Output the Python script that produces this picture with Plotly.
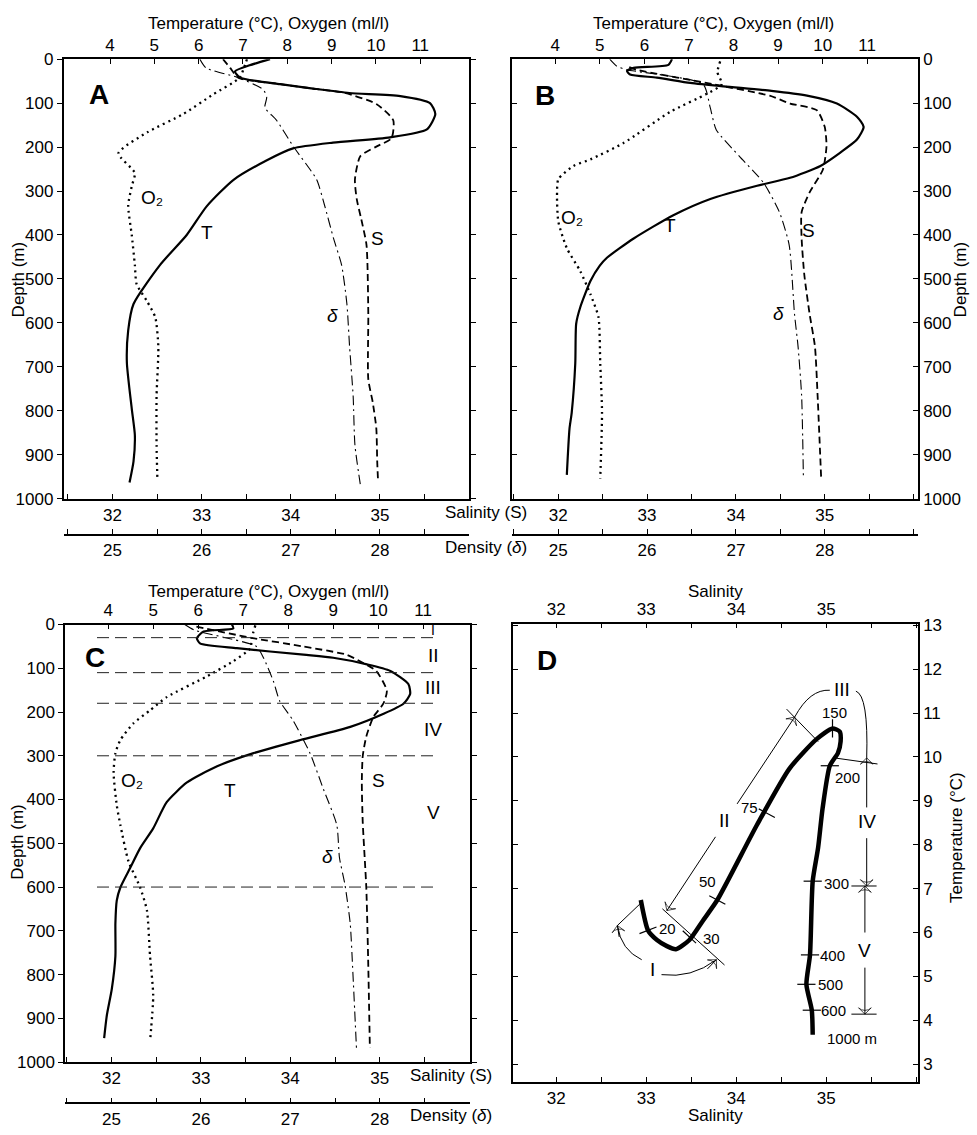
import plotly.graph_objects as go

W, H = 977, 1135
FONT = "Liberation Sans, Arial, Helvetica, sans-serif"

# ---------------- tick values ----------------
TEMP_TICKS = [4, 5, 6, 7, 8, 9, 10, 11]
SAL_TICKS = [32, 33, 34, 35]
DENS_TICKS = [25, 26, 27, 28]
DEPTH_TICKS = [0, 100, 200, 300, 400, 500, 600, 700, 800, 900, 1000]
D_TEMP_TICKS = [3, 4, 5, 6, 7, 8, 9, 10, 11, 12, 13]

# ---------------- panel A ----------------
A_T_DEPTH = [0, 14, 28, 42, 57, 67, 77, 84, 100, 125, 160, 178, 190, 203, 230, 275, 335, 400,
             468, 557, 617, 690, 795, 855, 915, 963]
A_T = [7.61, 7.15, 6.82, 6.93, 7.84, 8.58, 9.4, 10.55, 11.22, 11.34, 11.15, 10.32, 9.03, 8.13,
       7.54, 6.78, 6.18, 5.73, 5.13, 4.53, 4.41, 4.38, 4.49, 4.56, 4.53, 4.44]
A_O2_DEPTH = [0, 20, 42, 80, 125, 166, 214, 259, 289, 333, 400, 468, 512, 550, 587, 654, 766, 878, 960]
A_O2 = [7.09, 7.02, 6.93, 6.33, 5.65, 4.85, 4.19, 4.56, 4.49, 4.41, 4.49, 4.56, 4.6, 4.83, 5.02,
        5.09, 5.05, 5.05, 5.07]
A_S_DEPTH = [0, 20, 42, 57, 67, 76, 102, 139, 180, 199, 221, 274, 318, 363, 423, 579, 728, 781, 840, 915, 963]
A_S = [33.24, 33.32, 33.41, 33.88, 34.25, 34.59, 34.96, 35.15, 35.13, 34.96, 34.78, 34.72, 34.74,
       34.79, 34.85, 34.87, 34.87, 34.92, 34.96, 34.97, 34.98]
A_D_DEPTH = [0, 20, 42, 69, 87, 110, 139, 199, 274, 333, 408, 468, 557, 654, 766, 878, 967]
A_D = [25.98, 26.05, 26.41, 26.69, 26.73, 26.71, 26.84, 27.03, 27.29, 27.38, 27.48, 27.57, 27.63,
       27.66, 27.7, 27.72, 27.78]

# ---------------- panel B ----------------
B_T_DEPTH = [0, 13, 20, 27, 35, 42, 54, 62, 72, 83, 101, 131, 154, 183, 213, 243, 270, 288, 318,
             355, 408, 452, 470, 505, 565, 602, 692, 804, 841, 946]
B_T = [6.62, 6.54, 5.76, 5.61, 5.68, 6.28, 7.03, 7.78, 8.85, 9.65, 10.32, 10.77, 10.92, 10.77,
       10.39, 9.95, 9.27, 8.53, 7.48, 6.65, 5.76, 5.16, 5.0, 4.79, 4.56, 4.47, 4.45, 4.37, 4.32, 4.26]
B_O2_DEPTH = [5, 30, 57, 79, 120, 191, 228, 243, 273, 311, 370, 430, 482, 535, 587, 692, 804, 954]
B_O2 = [7.7, 7.64, 7.74, 7.4, 6.58, 5.53, 4.79, 4.41, 4.07, 4.04, 4.07, 4.26, 4.56, 4.79, 4.97,
        5.01, 5.05, 5.01]
B_S_DEPTH = [18, 24, 57, 83, 101, 116, 154, 198, 251, 303, 348, 408, 490, 580, 654, 766, 953]
B_S = [32.8, 32.88, 33.74, 34.38, 34.61, 34.91, 35.0, 35.02, 34.98, 34.83, 34.74, 34.74, 34.77,
       34.83, 34.89, 34.92, 34.96]
B_D_DEPTH = [0, 16, 24, 57, 109, 161, 221, 281, 348, 423, 580, 654, 766, 953]
B_D = [25.58, 25.66, 25.77, 26.63, 26.71, 26.78, 27.04, 27.31, 27.49, 27.6, 27.66, 27.7, 27.74, 27.76]

# ---------------- panel C ----------------
C_T_DEPTH = [0, 9, 16, 31, 43, 54, 69, 76, 91, 106, 136, 159, 181, 204, 234, 264, 294, 324, 361,
             406, 466, 511, 556, 601, 631, 683, 758, 833, 893, 945]
C_T = [6.75, 6.78, 6.12, 5.97, 6.04, 6.86, 8.34, 9.0, 9.75, 10.27, 10.67, 10.71, 10.56, 10.12,
       9.38, 8.27, 7.23, 6.42, 5.75, 5.3, 5.0, 4.71, 4.49, 4.27, 4.19, 4.16, 4.16, 4.08, 3.97, 3.91]
C_O2_DEPTH = [2, 31, 54, 84, 118, 166, 196, 226, 264, 294, 339, 413, 458, 541, 601, 653, 758, 848, 953]
C_O2 = [7.27, 7.19, 7.16, 6.78, 6.2, 5.3, 4.93, 4.56, 4.27, 4.16, 4.12, 4.19, 4.27, 4.45, 4.71,
        4.86, 4.93, 5.0, 4.93]
C_S_DEPTH = [5, 31, 50, 69, 84, 106, 151, 181, 211, 256, 301, 361, 451, 601, 758, 968]
C_S = [32.95, 33.58, 34.14, 34.63, 34.78, 34.96, 35.08, 35.04, 34.93, 34.85, 34.81, 34.8, 34.81,
       34.85, 34.87, 34.89]
C_D_DEPTH = [0, 13, 50, 76, 129, 174, 219, 294, 376, 458, 533, 593, 683, 796, 968]
C_D = [25.82, 25.93, 26.62, 26.7, 26.81, 26.88, 27.03, 27.22, 27.37, 27.52, 27.55, 27.61, 27.67,
       27.7, 27.74]
ZONE_BOUNDS = [30, 110, 180, 300, 600]
ZONE_NAMES = ["I", "II", "III", "IV", "V"]
ZONE_LABEL_DEPTH = [12, 70, 144, 240, 430]

# ---------------- panel D (T-S diagram) ----------------
D_SAL = [32.94, 33.02, 33.12, 33.23, 33.33, 33.48, 33.63, 33.79, 34.23, 34.59, 34.89,
         35.07, 35.15, 35.16, 35.13, 35.04, 34.96, 34.91, 34.85, 34.82, 34.78, 34.84, 34.85]
D_TEMP = [6.74, 6.05, 5.83, 5.69, 5.62, 5.83, 6.27, 6.74, 8.45, 9.73, 10.4, 10.65, 10.58,
          10.35, 10.09, 9.8, 8.83, 7.93, 7.17, 5.49, 4.82, 4.23, 3.67]
D_MARK_LABEL = ["20", "30", "50", "75", "150", "200", "300", "400", "500", "600"]
D_MARK_SAL = [33.02, 33.48, 33.79, 34.34, 35.07, 35.04, 34.85, 34.82, 34.78, 34.84]
D_MARK_TEMP = [6.05, 5.9, 6.74, 8.72, 10.65, 9.8, 7.17, 5.49, 4.82, 4.23]

# ---------------- styles ----------------
LINE = {
    "T": dict(color="black", width=2.2),
    "O2": dict(color="black", width=2.3, dash="2px,4px"),
    "S": dict(color="black", width=1.8, dash="7px,4px"),
    "D": dict(color="black", width=1.1, dash="10px,4px,2px,4px"),
}
AX = dict(showline=True, linecolor="black", linewidth=1.5, showgrid=False, zeroline=False,
          ticks="inside", ticklen=5, tickwidth=1.3, tickcolor="black",
          tickfont=dict(size=17, family=FONT, color="black"))
HALF = dict(dtick=0.5, tick0=0, ticks="inside", ticklen=5, tickwidth=1.3, tickcolor="black")


def key(k, i):
    return f"{k}axis" if i == 1 else f"{k}axis{i}"


def ref(k, i):
    return k if i == 1 else f"{k}{i}"


def pp(x, y):
    return x / W, 1 - y / H


def label(t, x, y, size=17, **kw):
    X, Y = pp(x, y)
    d = dict(text=t, x=X, y=Y, xref="paper", yref="paper", showarrow=False,
             font=dict(size=size, family=FONT, color="black"), xanchor="center", yanchor="middle")
    d.update(kw)
    return d


fig = go.Figure()
annotations = []
shapes = []


def add_profile(n, xdom, ydom, dens_pos, t_rng, s_rng, depth_side, depth_ticks, series):
    it, is_, id_ = 3 * n - 2, 3 * n - 1, 3 * n
    xt, xs, xd, yr = ref("x", it), ref("x", is_), ref("x", id_), ref("y", n)
    for kind, vals, depths in series:
        xa = {"T": xt, "O2": xt, "S": xs, "D": xd}[kind]
        fig.add_trace(go.Scatter(x=vals, y=depths, xaxis=xa, yaxis=yr, mode="lines",
                                 line=dict(LINE[kind], shape="spline", smoothing=0.6),
                                 showlegend=False, hoverinfo="skip"))
    fig.update_layout({
        key("x", it): dict(AX, domain=xdom, range=t_rng, side="top", anchor=yr, tickvals=TEMP_TICKS),
        key("x", is_): dict(AX, range=s_rng, side="bottom", anchor=yr, overlaying=xt,
                            tickvals=SAL_TICKS, minor=HALF),
        key("x", id_): dict(AX, range=[s_rng[0] - 7, s_rng[1] - 7], side="bottom", anchor="free",
                            position=dens_pos, overlaying=xt, tickvals=DENS_TICKS, minor=HALF),
        key("y", n): dict(AX, domain=ydom, range=[1000, 0], side=depth_side, anchor=xt,
                          tickvals=DEPTH_TICKS, ticks=depth_ticks, mirror="ticks"),
    })


AB_YDOM = [1 - 498 / H, 1 - 51 / H]
C_YDOM = [1 - 1071 / H, 1 - 626 / H]

add_profile(1, [63.5 / W, 469 / W], AB_YDOM, 1 - 535 / H, [2.95, 12.1], [31.45, 36.0], "left", "outside",
            [("T", A_T, A_T_DEPTH), ("O2", A_O2, A_O2_DEPTH), ("S", A_S, A_S_DEPTH), ("D", A_D, A_D_DEPTH)])
add_profile(2, [512 / W, 918 / W], AB_YDOM, 1 - 535 / H, [3.03, 12.14], [31.48, 36.05], "right", "inside",
            [("T", B_T, B_T_DEPTH), ("O2", B_O2, B_O2_DEPTH), ("S", B_S, B_S_DEPTH), ("D", B_D, B_D_DEPTH)])
add_profile(3, [65 / W, 470 / W], C_YDOM, 1 - 1113 / H, [3.04, 12.04], [31.48, 36.01], "left", "outside",
            [("T", C_T, C_T_DEPTH), ("O2", C_O2, C_O2_DEPTH), ("S", C_S, C_S_DEPTH), ("D", C_D, C_D_DEPTH)])

# zone boundaries in C
for d in ZONE_BOUNDS:
    shapes.append(dict(type="line", xref="paper", yref="y3", x0=97 / W, x1=437 / W, y0=d, y1=d,
                       line=dict(color="#222", width=1, dash="12px,6px")))
for name, d in zip(ZONE_NAMES, ZONE_LABEL_DEPTH):
    annotations.append(dict(text=name, xref="paper", yref="y3", x=433 / W, y=d, showarrow=False,
                            font=dict(size=14 if name == "I" else 19, family=FONT, color="black"),
                            xanchor="center", yanchor="middle"))

# ---------------- panel D ----------------
D_XDOM = [513 / W, 918 / W]
D_YDOM = [1 - 1091 / H, 1 - 625 / H]
D_S_RNG = [31.52, 36.02]
fig.add_trace(go.Scatter(x=D_SAL, y=D_TEMP, xaxis="x10", yaxis="y4", mode="lines",
                         line=dict(color="black", width=4.5, shape="spline", smoothing=0.6),
                         showlegend=False, hoverinfo="skip"))
fig.add_trace(go.Scatter(x=D_MARK_SAL, y=D_MARK_TEMP, xaxis="x10", yaxis="y4", mode="markers",
                         marker=dict(symbol="line-ew", size=13, angle=[-21, 43, 28, 28, 90, 0, 0, 0, 0, 0],
                                     line=dict(color="black", width=1.2)),
                         showlegend=False, hoverinfo="skip"))
fig.add_trace(go.Scatter(x=[], y=[], xaxis="x11", yaxis="y4", showlegend=False))
fig.update_layout(
    xaxis10=dict(AX, domain=D_XDOM, range=D_S_RNG, side="bottom", anchor="y4",
                 tickvals=SAL_TICKS, minor=HALF),
    xaxis11=dict(AX, range=D_S_RNG, side="top", anchor="y4", overlaying="x10",
                 tickvals=SAL_TICKS, minor=HALF),
    yaxis4=dict(AX, domain=D_YDOM, range=[2.6, 13.04], side="right", anchor="x10",
                tickvals=D_TEMP_TICKS, mirror="ticks"),
)

shifts = [(19, 2), (22, -2), (-10, 19), (-17, 6), (2, 16), (18, -12), (24, -2), (22, -1), (24, 0), (22, 0)]
for t, s, tt, (dx, dy) in zip(D_MARK_LABEL, D_MARK_SAL, D_MARK_TEMP, shifts):
    annotations.append(dict(text=t, xref="x10", yref="y4", x=s, y=tt, xshift=dx, yshift=dy,
                            showarrow=False, font=dict(size=15, family=FONT, color="black"),
                            xanchor="center", yanchor="middle"))
annotations.append(dict(text="1000 m", xref="x10", yref="y4", x=D_SAL[-1], y=D_TEMP[-1], xshift=12,
                        yshift=-4, showarrow=False, font=dict(size=15, family=FONT, color="black"),
                        xanchor="left", yanchor="middle"))

# zone brackets of the T-S curve (thin lines, arcs, arrows)
thin = dict(color="black", width=1)
for x0, y0, x1, y1 in [(32.68, 6.16, 32.93, 6.65), (33.18, 6.54, 33.87, 5.26),
                       (34.56, 11.09, 34.91, 10.35), (35.12, 9.97, 35.57, 9.84),
                       (35.28, 7.06, 35.56, 7.06), (35.28, 4.14, 35.56, 4.14)]:
    shapes.append(dict(type="line", xref="x10", yref="y4", x0=x0, y0=y0, x1=x1, y1=y1, line=thin))
for path in ["M 34.65,10.91 Q 34.82,11.55 35.04,11.52", "M 35.33,11.5 Q 35.47,11.4 35.45,9.98",
             "M 32.95,5.38 Q 32.72,5.6 32.68,6.16", "M 33.17,5.04 Q 33.5,4.95 33.78,5.38"]:
    shapes.append(dict(type="path", xref="x10", yref="y4", path=path, line=thin))
for (hx, hy), (tx, ty) in [((34.65, 10.91), (34.01, 8.93)), ((33.23, 6.5), (33.77, 8.18)),
                           ((35.45, 9.98), (35.45, 8.85)), ((35.45, 7.06), (35.45, 8.15)),
                           ((35.43, 7.06), (35.43, 6.0)), ((35.43, 4.14), (35.43, 5.2)),
                           ((32.68, 6.16), (32.7, 5.9)), ((33.78, 5.38), (33.68, 5.17))]:
    fig.add_trace(go.Scatter(x=[tx, hx], y=[ty, hy], xaxis="x10", yaxis="y4", mode="lines+markers",
                             line=thin,
                             marker=dict(symbol="arrow-wide-open", size=[0, 9], angleref="previous",
                                         color="black", line=dict(color="black", width=1)),
                             showlegend=False, hoverinfo="skip"))
for name, s, t in [("I", 33.07, 5.15), ("II", 33.87, 8.56), ("III", 35.18, 11.54),
                   ("IV", 35.45, 8.52), ("V", 35.43, 5.6)]:
    annotations.append(dict(text=name, xref="x10", yref="y4", x=s, y=t, showarrow=False,
                            font=dict(size=19, family=FONT, color="black"),
                            xanchor="center", yanchor="middle"))

# ---------------- texts ----------------
for letter, x, y in [("A", 99, 87), ("B", 545, 88), ("C", 95, 660), ("D", 547, 663)]:
    annotations.append(label(f"<b>{letter}</b>", x, y, size=28))
for x, y in [(152, 192), (572, 212), (132, 785)]:
    annotations.append(label("O₂", x, y, size=19))
for x, y in [(207, 227), (670, 220), (230, 795)]:
    annotations.append(label("T", x, y, size=19))
for x, y in [(377, 233), (808, 225), (378, 785)]:
    annotations.append(label("S", x, y, size=19))
for x, y in [(332, 312), (778, 310), (327, 862)]:
    annotations.append(label("<i>δ</i>", x, y, size=19))

for x, y in [(268, 15), (713, 15), (268, 592)]:
    annotations.append(label("Temperature (°C), Oxygen (ml/l)", x, y))
for x, y in [(18, 275), (960, 275), (18, 847)]:
    annotations.append(label("Depth (m)", x, y, textangle=-90))
annotations.append(label("Salinity (S)", 443, 512, xanchor="left"))
annotations.append(label("Density (<i>δ</i>)", 443, 548, xanchor="left"))
annotations.append(label("Salinity (S)", 408, 1085, xanchor="left"))
annotations.append(label("Density (<i>δ</i>)", 408, 1125, xanchor="left"))
annotations.append(label("Salinity", 715, 592))
annotations.append(label("Salinity", 715, 1125))
annotations.append(label("Temperature (°C)", 957, 843, textangle=-90))

fig.update_layout(width=W, height=H, autosize=False, margin=dict(l=0, r=0, t=0, b=0),
                  paper_bgcolor="white", plot_bgcolor="white",
                  font=dict(family=FONT, color="black"),
                  annotations=annotations, shapes=shapes)

fig.write_html("out.html", config={"displayModeBar": False},
               post_script="document.body.style.margin='0';")
